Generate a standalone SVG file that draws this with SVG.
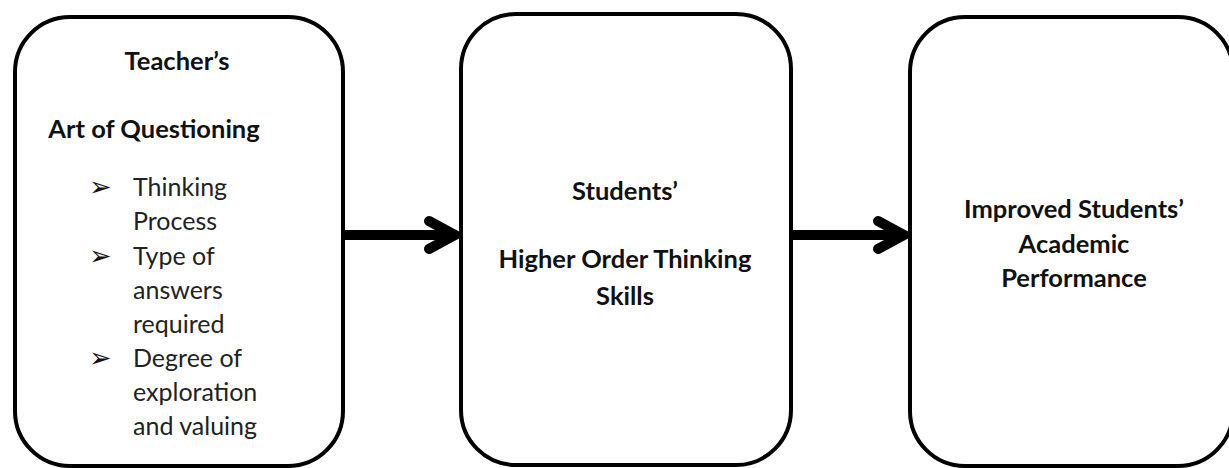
<svg xmlns="http://www.w3.org/2000/svg" width="1229" height="468" viewBox="0 0 1229 468">
  <style>
    .box { fill: #ffffff; stroke: #000000; stroke-width: 4; }
    .title { font-family: Lato, "Open Sans", sans-serif; font-weight: bold; font-size: 25.5px; fill: #111111; text-anchor: middle; }
    .item { font-family: Lato, "Open Sans", sans-serif; font-size: 25px; fill: #222222; }
    .bullet { font-family: "DejaVu Sans", sans-serif; font-size: 27px; fill: #111111; }
    .link { fill: none; stroke: #000000; stroke-width: 10; }
    .head { fill: none; stroke: #000000; stroke-width: 10; stroke-linecap: round; stroke-linejoin: miter; }
  </style>
  <rect width="1229" height="468" fill="#ffffff"/>

  <!-- connectors -->
  <g id="connectors">
    <g id="edge-questioning-hots">
      <line class="link" x1="345" y1="235" x2="454" y2="235"/>
      <polyline class="head" points="429,221 455,235 429,249"/>
    </g>
    <g id="edge-hots-performance">
      <line class="link" x1="793" y1="235" x2="903" y2="235"/>
      <polyline class="head" points="878,221 904,235 878,249"/>
    </g>
  </g>

  <!-- left: teacher's art of questioning -->
  <g id="node-questioning">
    <rect class="box" x="15" y="17" width="328" height="449" rx="55" ry="55"/>
    <text class="title" x="177" y="70">Teacher’s</text>
    <text class="title" x="154" y="138">Art of Questioning</text>
    <text class="bullet" x="89" y="196">➢</text>
    <text class="item" x="133" y="196">Thinking</text>
    <text class="item" x="133" y="230">Process</text>
    <text class="bullet" x="89" y="265">➢</text>
    <text class="item" x="133" y="265">Type of</text>
    <text class="item" x="133" y="299">answers</text>
    <text class="item" x="133" y="333">required</text>
    <text class="bullet" x="89" y="367">➢</text>
    <text class="item" x="133" y="367">Degree of</text>
    <text class="item" x="133" y="401">exploration</text>
    <text class="item" x="133" y="435">and valuing</text>
  </g>

  <!-- middle: higher order thinking skills -->
  <g id="node-hots">
    <rect class="box" x="461" y="14" width="330" height="451" rx="55" ry="55"/>
    <text class="title" x="625" y="200">Students’</text>
    <text class="title" x="625" y="268">Higher Order Thinking</text>
    <text class="title" x="625" y="305">Skills</text>
  </g>

  <!-- right: academic performance -->
  <g id="node-performance">
    <rect class="box" x="910" y="17" width="323" height="449" rx="55" ry="55"/>
    <text class="title" x="1074" y="218">Improved Students’</text>
    <text class="title" x="1074" y="253">Academic</text>
    <text class="title" x="1074" y="287">Performance</text>
  </g>
</svg>
